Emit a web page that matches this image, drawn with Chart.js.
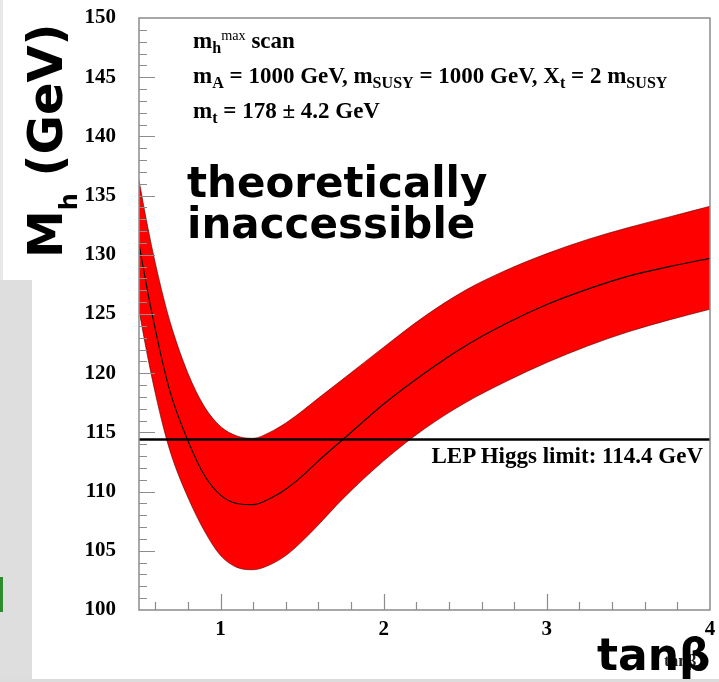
<!DOCTYPE html>
<html><head><meta charset="utf-8">
<script src="https://cdn.jsdelivr.net/npm/chart.js@4.4.1/dist/chart.umd.min.js"></script>
<style>
html,body{margin:0;padding:0;background:#fff;}
#wrap{position:relative;width:719px;height:682px;overflow:hidden;background:#fff;}
#c{position:absolute;left:0;top:0;}
.t{position:absolute;white-space:nowrap;color:#000;}
.param{font-family:'Liberation Serif',serif;font-weight:bold;font-size:23px;line-height:23px;}
.sb{font-size:70%;position:relative;top:0.3em;}
.sp{font-size:62%;position:relative;top:-0.55em;font-weight:normal;}
.big{font-family:'DejaVu Sans',sans-serif;font-weight:bold;font-size:42px;line-height:41px;}
</style></head>
<body><div id="wrap">
<div style="position:absolute;left:0;top:0;width:3px;height:280px;background:#e8e8e8"></div>
<div style="position:absolute;left:0;top:280px;width:32px;height:400px;background:#dedede"></div>
<div style="position:absolute;left:0;top:679px;width:719px;height:3px;background:#dcdcdc"></div>
<div style="position:absolute;left:0;top:577px;width:3px;height:35px;background:#2e8b2e"></div>
<canvas id="c" width="719" height="682"></canvas>

<div class="t param" style="left:193px;top:29px">m<span class="sb">h</span><span class="sp">max</span> scan</div>
<div class="t param" style="left:193px;top:64px">m<span class="sb">A</span> = 1000 GeV, m<span class="sb">SUSY</span> = 1000 GeV, X<span class="sb">t</span> = 2 m<span class="sb">SUSY</span></div>
<div class="t param" style="left:193px;top:99px">m<span class="sb">t</span> = 178 ± 4.2 GeV</div>
<div class="t param" style="right:16px;top:444px">LEP Higgs limit: 114.4 GeV</div>

<div class="t big" style="left:187px;top:162px">theoretically<br>inaccessible</div>

<div class="t" style="left:664px;top:652px;font-family:'Liberation Serif',serif;font-weight:bold;font-size:17px;line-height:17px;color:#222">tanβ</div>
<div class="t" style="left:597px;top:633px;font-family:'DejaVu Sans',sans-serif;font-weight:bold;font-size:44px;line-height:44px;">tanβ</div>

<div class="t" style="left:21px;top:258px;transform-origin:0 0;transform:rotate(-90deg);font-family:'DejaVu Sans',sans-serif;font-weight:bold;font-size:48px;line-height:48px;">M<span style="font-size:24px;position:relative;top:15px">h</span> (GeV)</div>
</div>

<script>
// ---- data ----
const tanBeta    = [0.5, 0.55, 0.6, 0.65, 0.7, 0.8, 0.9, 1.0, 1.1, 1.2, 1.3, 1.4, 1.5, 1.6, 1.75, 2.0, 2.25, 2.5, 2.75, 3.0, 3.25, 3.5, 3.75, 4.0];
const mhUpper    = [136.3, 132.6, 129.3, 126.4, 123.9, 120.0, 117.2, 115.5, 114.7, 114.5, 115.0, 115.8, 116.8, 117.9, 119.5, 122.2, 124.8, 127.0, 128.7, 130.1, 131.3, 132.3, 133.2, 134.1];
const mhCentral  = [130.9, 127.1, 123.7, 120.6, 118.0, 114.3, 111.4, 109.7, 109.0, 108.9, 109.4, 110.2, 111.3, 112.6, 114.4, 117.4, 120.0, 122.3, 124.2, 125.8, 127.1, 128.2, 129.0, 129.7];
const mhLower    = [125.3, 121.6, 118.3, 115.4, 113.0, 109.5, 106.7, 104.6, 103.6, 103.4, 103.8, 104.6, 105.8, 107.2, 109.4, 112.6, 115.3, 117.5, 119.3, 120.9, 122.3, 123.5, 124.5, 125.4];
const lepLimit   = 114.4;
const xTickLabels = [1, 2, 3, 4];
const yTickLabels = [100, 105, 110, 115, 120, 125, 130, 135, 140, 145, 150];
const xRange = [0.5, 4];
const yRange = [100, 150];

const pts = ys => tanBeta.map((x, i) => ({x: x, y: ys[i]}));
const lineCommon = {pointRadius: 0, cubicInterpolationMode: 'monotone'};

const frameColor = '#8c8c8c';
const innerTicks = {
  id: 'innerTicks',
  afterDraw(chart) {
    const {ctx, chartArea: a, scales: {x, y}} = chart;
    ctx.save();
    ctx.strokeStyle = frameColor;
    ctx.lineWidth = 1.5;
    ctx.beginPath();
    ctx.rect(a.left, a.top, a.right - a.left, a.bottom - a.top);
    ctx.stroke();
    ctx.lineWidth = 1.2;
    ctx.beginPath();
    for (let v = yRange[0] + 1; v < yRange[1]; v++) {
      const py = Math.round(y.getPixelForValue(v)) + 0.5;
      const len = (v % 5 === 0) ? 16 : 8;
      ctx.moveTo(a.left, py); ctx.lineTo(a.left + len, py);
    }
    for (let k = 6; k < 40; k += 2) {
      const v = k / 10;
      const px = Math.round(x.getPixelForValue(v)) + 0.5;
      const len = (k % 10 === 0) ? 16 : 8;
      ctx.moveTo(px, a.bottom); ctx.lineTo(px, a.bottom - len);
    }
    ctx.stroke();
    ctx.restore();
  }
};

const tickFont = {family: "'Liberation Serif', serif", weight: 'bold', size: 21};

new Chart(document.getElementById('c'), {
  type: 'line',
  data: {
    datasets: [
      Object.assign({label: 'upper', order: 4, data: pts(mhUpper), fill: '+1', backgroundColor: '#ff0000', borderColor: 'rgba(80,0,0,0.75)', borderWidth: 0.8}, lineCommon),
      Object.assign({label: 'lower', order: 3, data: pts(mhLower), fill: false, borderColor: 'rgba(80,0,0,0.75)', borderWidth: 0.8}, lineCommon),
      Object.assign({label: 'central', order: 2, data: pts(mhCentral), fill: false, borderColor: '#000', borderWidth: 1.1}, lineCommon),
      {label: 'LEP', order: 1, data: [{x: xRange[0], y: lepLimit}, {x: xRange[1], y: lepLimit}], fill: false, borderColor: '#000', borderWidth: 2.6, pointRadius: 0}
    ]
  },
  options: {
    responsive: false,
    animation: false,
    devicePixelRatio: 1,
    layout: {padding: {left: 0, top: 18, right: 9, bottom: 0}},
    plugins: {legend: {display: false}, tooltip: {enabled: false}, filler: {drawTime: 'beforeDatasetsDraw'}},
    scales: {
      x: {
        type: 'linear', min: xRange[0], max: xRange[1],
        afterBuildTicks: s => { s.ticks = xTickLabels.map(v => ({value: v})); },
        afterFit: s => { s.height = 72; s.paddingLeft = 0; s.paddingRight = 0; },
        grid: {display: false, drawTicks: false},
        border: {display: false},
        ticks: {padding: 7, font: tickFont, color: '#000', maxRotation: 0, autoSkip: false}
      },
      y: {
        type: 'linear', min: yRange[0], max: yRange[1],
        afterBuildTicks: s => { s.ticks = yTickLabels.map(v => ({value: v})); },
        afterFit: s => { s.width = 139; s.paddingTop = 0; s.paddingBottom = 0; },
        grid: {display: false, drawTicks: false},
        border: {display: false},
        ticks: {padding: 23, font: tickFont, color: '#000', autoSkip: false}
      }
    }
  },
  plugins: [innerTicks]
});
</script>
</body></html>
